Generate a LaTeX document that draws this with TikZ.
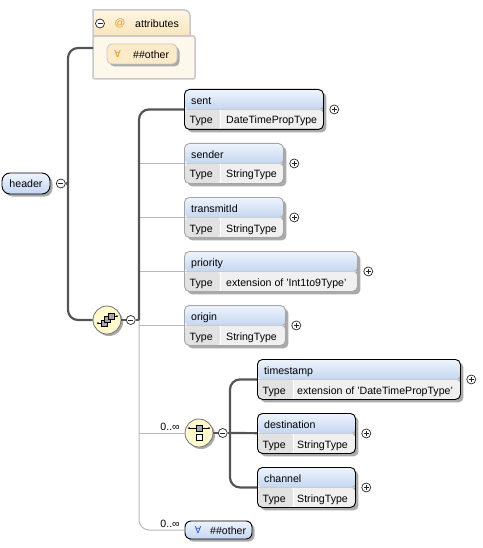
\documentclass[tikz,border=0pt]{standalone}
\usepackage{fontspec}
\setmainfont{Liberation Sans}
\newfontfamily\symfont{DejaVu Sans}
\usetikzlibrary{shadows,positioning}
\definecolor{hdtop}{RGB}{238,244,253}
\definecolor{hdbot}{RGB}{196,214,241}
\definecolor{typeval}{RGB}{240,240,240}
\definecolor{typecell}{RGB}{226,226,226}
\definecolor{shadowc}{RGB}{170,170,170}
\definecolor{optedge}{RGB}{165,165,165}
\definecolor{strongc}{RGB}{85,85,85}
\definecolor{weakc}{RGB}{185,185,185}
\definecolor{compfill}{RGB}{255,249,206}
\definecolor{attrtop}{RGB}{255,246,228}
\definecolor{attrbot}{RGB}{252,228,186}
\definecolor{attrbody}{RGB}{254,248,236}
\definecolor{attredge}{RGB}{200,200,200}
\definecolor{attrany}{RGB}{253,234,200}
\definecolor{attrorange}{RGB}{232,152,30}
\definecolor{anyblue}{RGB}{40,80,210}

\begin{document}
\begin{tikzpicture}[x=1pt,y=-1pt,
    every node/.style={inner sep=0pt, font=\fontsize{10.6}{12}\selectfont},
    lbl/.style={anchor=base west},
    element/.style={rectangle, rounded corners=5, minimum height=40, anchor=north west, line width=0.9,
        general shadow={shadow xshift=3, shadow yshift=3, fill=shadowc},
        path picture={
            \fill[typeval] (path picture bounding box.south west) rectangle ([yshift=-20]path picture bounding box.north east);
            \fill[typecell] (path picture bounding box.south west) rectangle ([xshift=36,yshift=-20]path picture bounding box.north west);
            \shade[top color=hdtop, bottom color=hdbot] (path picture bounding box.north west) rectangle ([yshift=-20]path picture bounding box.north east);
            \draw[white, line width=1] ([xshift=36,yshift=-20]path picture bounding box.north west) -- ([xshift=36]path picture bounding box.south west);
            \draw[black!20, line width=0.6] ([yshift=-20]path picture bounding box.north west) -- ([yshift=-20]path picture bounding box.north east);
        }},
    mand/.style={draw=black},
    opt/.style={draw=optedge},
    hdr/.style={rectangle, rounded corners=8, draw=black, line width=0.9, top color=hdtop, bottom color=hdbot,
        general shadow={shadow xshift=2.5, shadow yshift=2.5, fill=shadowc}},
    compositor/.style={circle, draw=black!55, fill=compfill, minimum size=28, line width=0.8,
        general shadow={shadow xshift=2, shadow yshift=2, fill=shadowc}},
    btnplus/.style={circle, draw=black!85, fill=white, minimum size=9, line width=0.7,
        path picture={
            \draw[line width=0.8] ([xshift=-2.5]path picture bounding box.center) -- ([xshift=2.5]path picture bounding box.center);
            \draw[line width=0.8] ([yshift=-2.5]path picture bounding box.center) -- ([yshift=2.5]path picture bounding box.center);
        }},
    btnminus/.style={circle, draw=black!85, fill=white, minimum size=9, line width=0.7,
        path picture={
            \draw[line width=0.8] ([xshift=-2.5]path picture bounding box.center) -- ([xshift=2.5]path picture bounding box.center);
        }},
    strong/.style={draw=strongc, line width=2.2},
    weak/.style={draw=weakc, line width=1},
    icon/.style={draw=black, line width=0.5}]
    \useasboundingbox (0,0) rectangle (482,548);

    % attributes
    \filldraw[fill=attrbody, draw=attredge, line width=1.5, rounded corners=2] (93,36) rectangle (195,79);
    \shadedraw[top color=attrtop, bottom color=attrbot, draw=attredge, line width=1.5]
        (93,36) -- (93,10) -- (184,10) .. controls (187.3,10) and (190,12.7) .. (190,16) -- (190,36) -- cycle;
    \node[btnminus] (attrminus) at (100,23.5) {};
    \node (attrat) at (120,23.5) {\textcolor{attrorange}{@}};
    \node[lbl] (attrlbl) at (135,27.5) {attributes};
    \node[rectangle, rounded corners=5, minimum width=70, minimum height=20, fill=attrany, draw=attredge, line width=0.8,
        general shadow={shadow xshift=2.5, shadow yshift=2.5, fill=shadowc}] (anyA) at (142,54) {};
    \node (anyAsym) at (117.5,54) {\textcolor{attrorange}{\symfont\fontsize{9.5}{11}\selectfont ∀}};
    \node[lbl] (anyAlbl) at (133,58.5) {\#\#other};
    \coordinate (attrin) at (93,48);

    % header and sequence
    \node[hdr, minimum width=48, minimum height=21] (header) at (26,183.5) {header};
    \node[btnminus, right=5.5 of header] (hdminus) {};
    \coordinate (trunkA) at (68,183.5);
    \node[compositor] (seq) at (107,320) {};
    \node[btnminus, right=4.5 of seq] (seqminus) {};
    \coordinate (trunkB) at (139,320);

    % elements of the sequence
    \node[element, mand, minimum width=139] (sent) at (184,89) {};
    \node[btnplus, right=5.5 of sent] (sentplus) {};
    \node[lbl] (sentlbl) at ([xshift=7,yshift=-15.5]sent.north west) {sent};
    \node[lbl] (senttyp) at ([xshift=5.5,yshift=-35]sent.north west) {Type};
    \node[lbl] (sentval) at ([xshift=42,yshift=-35]sent.north west) {DateTimePropType};

    \node[element, opt, minimum width=99] (sender) at (184,143) {};
    \node[btnplus, right=5.5 of sender] (senderplus) {};
    \node[lbl] (senderlbl) at ([xshift=7,yshift=-15.5]sender.north west) {sender};
    \node[lbl] (sendertyp) at ([xshift=5.5,yshift=-35]sender.north west) {Type};
    \node[lbl] (senderval) at ([xshift=42,yshift=-35]sender.north west) {StringType};

    \node[element, opt, minimum width=99] (transmitId) at (184,197) {};
    \node[btnplus, right=5.5 of transmitId] (transmitIdplus) {};
    \node[lbl] (transmitIdlbl) at ([xshift=7,yshift=-15.5]transmitId.north west) {transmitId};
    \node[lbl] (transmitIdtyp) at ([xshift=5.5,yshift=-35]transmitId.north west) {Type};
    \node[lbl] (transmitIdval) at ([xshift=42,yshift=-35]transmitId.north west) {StringType};

    \node[element, opt, minimum width=173] (priority) at (184,251) {};
    \node[btnplus, right=5.5 of priority] (priorityplus) {};
    \node[lbl] (prioritylbl) at ([xshift=7,yshift=-15.5]priority.north west) {priority};
    \node[lbl] (prioritytyp) at ([xshift=5.5,yshift=-35]priority.north west) {Type};
    \node[lbl] (priorityval) at ([xshift=42,yshift=-35]priority.north west) {extension of 'Int1to9Type'};

    \node[element, opt, minimum width=101] (origin) at (184,305) {};
    \node[btnplus, right=5.5 of origin] (originplus) {};
    \node[lbl] (originlbl) at ([xshift=7,yshift=-15.5]origin.north west) {origin};
    \node[lbl] (origintyp) at ([xshift=5.5,yshift=-35]origin.north west) {Type};
    \node[lbl] (originval) at ([xshift=42,yshift=-35]origin.north west) {StringType};

    % choice
    \node[lbl, anchor=base east] (occA) at (180,430) {0..∞};
    \node[compositor] (choice) at (199,433) {};
    \node[btnminus, right=4.5 of choice] (choiceminus) {};
    \coordinate (trunkC) at (230,433);

    \node[element, mand, minimum width=203] (timestamp) at (257,359) {};
    \node[btnplus, right=5.5 of timestamp] (timestampplus) {};
    \node[lbl] (timestamplbl) at ([xshift=7,yshift=-15.5]timestamp.north west) {timestamp};
    \node[lbl] (timestamptyp) at ([xshift=5.5,yshift=-35]timestamp.north west) {Type};
    \node[lbl] (timestampval) at ([xshift=40,yshift=-35]timestamp.north west) {extension of 'DateTimePropType'};

    \node[element, mand, minimum width=98] (destination) at (257,413) {};
    \node[btnplus, right=5.5 of destination] (destinationplus) {};
    \node[lbl] (destinationlbl) at ([xshift=7,yshift=-15.5]destination.north west) {destination};
    \node[lbl] (destinationtyp) at ([xshift=5.5,yshift=-35]destination.north west) {Type};
    \node[lbl] (destinationval) at ([xshift=40,yshift=-35]destination.north west) {StringType};

    \node[element, mand, minimum width=98] (channel) at (257,467) {};
    \node[btnplus, right=5.5 of channel] (channelplus) {};
    \node[lbl] (channellbl) at ([xshift=7,yshift=-15.5]channel.north west) {channel};
    \node[lbl] (channeltyp) at ([xshift=5.5,yshift=-35]channel.north west) {Type};
    \node[lbl] (channelval) at ([xshift=40,yshift=-35]channel.north west) {StringType};

    % any element
    \node[lbl, anchor=base east] (occB) at (180,527) {0..∞};
    \node[rectangle, rounded corners=6, minimum width=67, minimum height=18, draw=black, line width=0.9,
        top color=hdtop, bottom color=hdbot,
        general shadow={shadow xshift=2.5, shadow yshift=2.5, fill=shadowc}] (anyB) at (218.5,530) {};
    \node (anyBsym) at (198,530) {\textcolor{anyblue}{\symfont\fontsize{9.5}{11}\selectfont ∀}};
    \node[lbl] (anyBlbl) at (210,534) {\#\#other};

    % connectors
    \draw[weak] (trunkB |- sender.west) -- (sender);
    \draw[weak] (trunkB |- transmitId.west) -- (transmitId);
    \draw[weak] (trunkB |- priority.west) -- (priority);
    \draw[weak] (trunkB |- origin.west) -- (origin);
    \draw[weak] (trunkB |- choice.west) -- (choice);
    \draw[weak, rounded corners=10] (trunkB) |- (anyB);
    \draw[strong] (hdminus) -- (trunkA);
    \draw[strong, rounded corners=10] (attrin) -| (trunkA) |- (seq);
    \draw[strong] (seq) -- (seqminus) -- (trunkB);
    \draw[strong, rounded corners=10] (trunkB) |- (sent);
    \draw[strong] (choice) -- (choiceminus) -- (trunkC);
    \draw[strong, rounded corners=10] (timestamp) -| (trunkC) |- (channel);
    \draw[strong] (trunkC) -- (destination);

    % sequence icon
    \draw[icon] ([shift={(-9,3)}]seq.center) -- ([shift={(-6,3)}]seq.center);
    \draw[icon] ([shift={(7,-4)}]seq.center) -- ([shift={(10,-4)}]seq.center);
    \fill ([shift={(-9,3)}]seq.center) circle (1);
    \fill ([shift={(10,-4)}]seq.center) circle (1);
    \filldraw[icon, fill=black!35] ([shift={(-6,0)}]seq.center) rectangle ([shift={(0,6)}]seq.center);
    \filldraw[icon, fill=black!35] ([shift={(-2.5,-3.5)}]seq.center) rectangle ([shift={(3.5,2.5)}]seq.center);
    \filldraw[icon, fill=black!35] ([shift={(1,-7)}]seq.center) rectangle ([shift={(7,-1)}]seq.center);

    % choice icon
    \draw[icon] ([shift={(-10,-5)}]choice.center) -- ([shift={(10,-5)}]choice.center);
    \fill ([shift={(-10,-5)}]choice.center) circle (1);
    \fill ([shift={(10,-5)}]choice.center) circle (1);
    \filldraw[icon, fill=black!35] ([shift={(-3,-8)}]choice.center) rectangle ([shift={(3,-2)}]choice.center);
    \filldraw[icon, fill=white] ([shift={(-3,1.5)}]choice.center) rectangle ([shift={(3,7.5)}]choice.center);
\end{tikzpicture}
\end{document}
